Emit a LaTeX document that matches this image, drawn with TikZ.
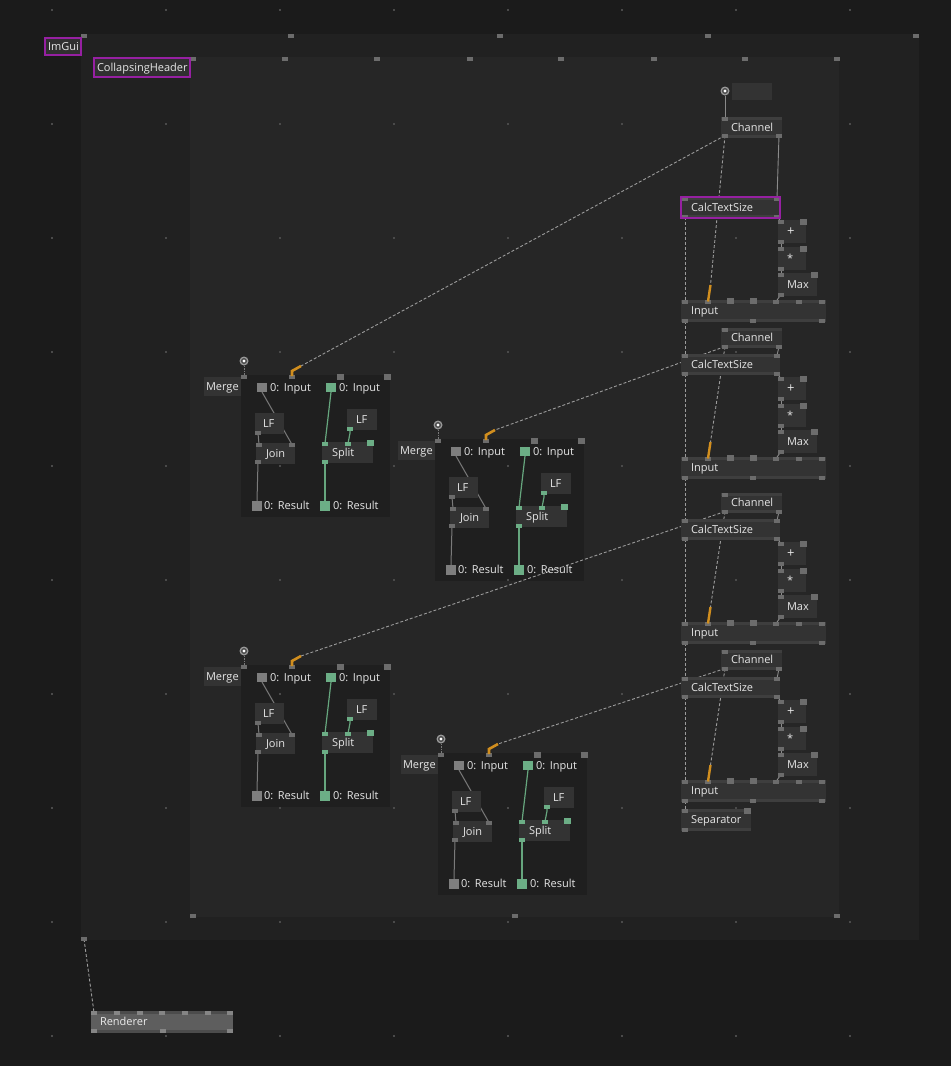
\documentclass[tikz,border=0pt]{standalone}
\usepackage{fontspec}
\setmainfont{Open Sans}
\pgfdeclarelayer{back}\pgfdeclarelayer{dots}\pgfdeclarelayer{wires}
\pgfsetlayers{back,dots,wires,main}
\definecolor{pagebg}{HTML}{1B1B1B}
\definecolor{outerc}{HTML}{212121}
\definecolor{innerc}{HTML}{262626}
\definecolor{grpc}{HTML}{1F1F1F}
\definecolor{nodec}{HTML}{333333}
\definecolor{stripc}{HTML}{3E3E3E}
\definecolor{portc}{HTML}{6C6C6C}
\definecolor{txtc}{HTML}{E6E6E6}
\definecolor{gwirec}{HTML}{7A7A7A}
\definecolor{swirec}{HTML}{8A8A8A}
\definecolor{dashc}{HTML}{9C9C9C}
\definecolor{greenc}{HTML}{66A67E}
\definecolor{greensq}{HTML}{6CAE86}
\definecolor{graysq}{HTML}{7E7E7E}
\definecolor{orangec}{HTML}{D18E1E}
\definecolor{purplec}{HTML}{9620A2}
\definecolor{lblc}{HTML}{303030}
\definecolor{rendc}{HTML}{5E5E5E}
\definecolor{rendstrip}{HTML}{4C4C4C}
\definecolor{rendport}{HTML}{858585}
\definecolor{dotc}{HTML}{4A4A4A}
\definecolor{circc}{HTML}{9A9A9A}
\definecolor{circin}{HTML}{4A4A4A}
% box with left-aligned text: [pad]{name}{x}{y}{w}{h}{text}
\newcommand\nbx[7][8]{%
  \node[boxsty, minimum width=#5pt, minimum height=#6pt] (#2) at (#3,#4) {};
  \node[txtsty] (#2-t) at ([xshift=#1pt,yshift=-3.5pt]#2.west) {#7};}
\newcommand\strips[2][stripc]{%
  \fill[#1] (#2.north west) rectangle ([yshift=-3pt]#2.north east);
  \fill[#1] (#2.south west) rectangle ([yshift=3pt]#2.south east);}
\newcommand\prt[4][portc]{\coordinate (#2) at (#3,#4);%
  \fill[#1] ([shift={(-3pt,-2pt)}]#2) rectangle ([shift={(3pt,2pt)}]#2);}
\newcommand\bprt[4][portc]{\coordinate (#2) at (#3,#4);%
  \fill[#1] ([shift={(-3.5pt,-3pt)}]#2) rectangle ([shift={(3.5pt,3pt)}]#2);}
\newcommand\cport[3]{%
  \node[circsty] (#1) at (#2,#3) {};
  \fill[circin] (#1) circle (3pt); \fill[white] (#1) circle (1.7pt);}
\begin{document}
\begin{tikzpicture}[x=1pt,y=-1pt,
  boxsty/.style={fill=nodec, inner sep=0pt, outer sep=0pt, anchor=north west, draw=none},
  txtsty/.style={text=txtc, font=\fontsize{11}{13}\selectfont, inner sep=0pt, outer sep=0pt, anchor=base west},
  sqsty/.style={inner sep=0pt, outer sep=0pt, minimum width=10pt, minimum height=9pt},
  rsqsty/.style={inner sep=0pt, outer sep=0pt, minimum width=10pt, minimum height=10pt},
  gwire/.style={draw=gwirec, line width=1pt},
  nwire/.style={draw=greenc, line width=1.2pt},
  swire/.style={draw=swirec, line width=0.9pt},
  dwire/.style={draw=dashc, line width=0.9pt, dash pattern=on 3pt off 2pt},
  circsty/.style={circle, fill=circc, minimum size=9pt, inner sep=0pt, outer sep=0pt},
  orng/.style={draw=orangec, line width=2.6pt},
]
\useasboundingbox (0,0) rectangle (951,1066);
\begin{pgfonlayer}{back}
  \fill[pagebg] (0,0) rectangle (951,1066);
  \node[boxsty, fill=outerc, minimum width=838pt, minimum height=906pt] (imgui) at (81,34) {};
  \node[boxsty, fill=innerc, minimum width=649pt, minimum height=860pt] (coll) at (190,57) {};
\end{pgfonlayer}
\begin{pgfonlayer}{dots}
  \foreach \x in {52,166,...,850} \foreach \y in {10,124,...,1036} {\fill[dotc] (\x-0.7,\y-0.7) rectangle (\x+0.7,\y+0.7);}
\end{pgfonlayer}
% container handles
\foreach \x [count=\i] in {84,291,500,708,916} {\prt{oh\i}{\x}{35.5}}
\prt{ohb}{84}{939}
\foreach \x [count=\i] in {193,285,377,469.5,561,653.5,745,837} {\prt{ih\i}{\x}{58.5}}
\foreach \x [count=\i] in {193,515,837} {\prt{ihb\i}{\x}{916}}
% labels
\node[boxsty, fill=lblc, draw=purplec, line width=2.4pt, minimum width=36pt, minimum height=17pt] (imguilbl) at (45,38) {};
\node[txtsty] (imguilbl-t) at ([xshift=3pt,yshift=-3.5pt]imguilbl.west) {ImGui};
\node[boxsty, fill=lblc, draw=purplec, line width=2.4pt, minimum width=96pt, minimum height=19pt] (colllbl) at (94,58) {};
\node[txtsty] (colllbl-t) at ([xshift=3pt,yshift=-3.5pt]colllbl.west) {CollapsingHeader};
% Merge groups
\foreach \g/\dx/\dy in {1/0/0,2/194/64,3/0/290,4/197/378}{
 \begin{scope}[shift={(\dx,\dy)}]
  \begin{pgfonlayer}{back}
    \node[boxsty, fill=grpc, minimum width=149pt, minimum height=142pt] (g\g) at (241,375) {};
  \end{pgfonlayer}
  \cport{g\g-c}{244}{361}
  \prt{g\g-mp}{244}{377}
  \nbx[2]{g\g-merge}{204}{377}{37}{19}{Merge}
  \prt{g\g-p1}{292}{377}
  \bprt{g\g-p2}{340}{377}
  \bprt{g\g-p3}{387}{377}
  \coordinate (g\g-tip) at (301,366);
  \draw[orng] ([yshift=1pt]g\g-p1) -- (292,371) -- (g\g-tip);
  \node[sqsty, fill=graysq] (g\g-gi) at (262,387.5) {};
  \node[txtsty] (g\g-git) at (270,391) {0:\,\ Input};
  \node[sqsty, fill=greensq] (g\g-ni) at (331,387.5) {};
  \node[txtsty] (g\g-nit) at (339,391) {0:\,\ Input};
  \nbx[8]{g\g-lf}{255}{413}{29}{21}{LF}
  \prt{g\g-lfb}{258}{433}
  \nbx[10]{g\g-join}{256}{443}{39}{21}{Join}
  \prt{g\g-jl}{259}{444.5}
  \prt{g\g-jr}{292}{444.5}
  \prt{g\g-jb}{258}{462}
  \nbx[9]{g\g-lf2}{347}{409}{30}{21}{LF}
  \prt[greensq]{g\g-lf2b}{350}{429}
  \nbx[10]{g\g-split}{322}{442}{51}{21}{Split}
  \prt[greensq]{g\g-sl}{325}{443.5}
  \prt[greensq]{g\g-sm}{348}{443.5}
  \bprt[greensq]{g\g-sr}{370}{443}
  \prt[greensq]{g\g-sb}{325}{461.5}
  \node[rsqsty, fill=graysq] (g\g-gr) at (257,506) {};
  \node[txtsty] (g\g-grt) at (264,509.5) {0:\,\ Result};
  \node[rsqsty, fill=greensq] (g\g-nr) at (325,506) {};
  \node[txtsty] (g\g-nrt) at (333,509.5) {0:\,\ Result};
  \begin{pgfonlayer}{wires}
    \draw[gwire, dash pattern=on 1.5pt off 1pt] (g\g-c) -- (g\g-mp);
    \draw[gwire] (g\g-gi.south) -- (g\g-jr);
    \draw[gwire] (g\g-lfb) -- (g\g-jl);
    \draw[gwire] (g\g-jb) -- (g\g-gr.north);
    \draw[nwire] (g\g-ni.south) -- (g\g-sl);
    \draw[nwire] (g\g-lf2b) -- ++(0,4) -- (g\g-sm);
    \draw[nwire] (g\g-sb) -- (g\g-nr.north);
  \end{pgfonlayer}
 \end{scope}}
% Right column blocks
\foreach \b/\s in {1/-157,2/0,3/165,4/323}{
 \begin{scope}[shift={(0,\s)}]
  \nbx[10]{b\b-cts}{681}{354}{99}{21}{CalcTextSize}
  \strips{b\b-cts}
  \prt{b\b-ctl}{685}{355.5}
  \prt{b\b-ctr}{777}{355.5}
  \prt{b\b-cbl}{685}{373.5}
  \prt{b\b-cbr}{777}{373.5}
  \nbx[9]{b\b-plus}{778}{377}{28}{23}{\fontsize{13}{13}\selectfont +}
  \prt{b\b-pl}{781}{378.5}
  \bprt{b\b-pr}{803}{378.5}
  \prt{b\b-pb}{781}{398.5}
  \nbx[9]{b\b-mul}{778}{404}{28}{23}{*}
  \prt{b\b-ml}{781}{405.5}
  \bprt{b\b-mr}{803}{405.5}
  \prt{b\b-mb}{781}{425.5}
  \nbx[9]{b\b-max}{778}{430}{39}{23}{Max}
  \prt{b\b-xl}{781}{431.5}
  \bprt{b\b-xr}{814}{431.5}
  \prt{b\b-xb}{781}{451.5}
  \nbx[10]{b\b-in}{681}{457}{145}{22}{Input}
  \strips{b\b-in}
  \prt{b\b-i1}{685}{458.5}
  \prt{b\b-i2}{708}{458.5}
  \bprt{b\b-i3}{730}{458}
  \bprt{b\b-i4}{753}{458}
  \prt{b\b-i5}{776}{458.5}
  \prt{b\b-i6}{799}{458.5}
  \prt{b\b-i7}{822}{458.5}
  \prt{b\b-o1}{685}{477.5}
  \prt{b\b-o2}{753}{477.5}
  \prt{b\b-o3}{822}{477.5}
  \coordinate (b\b-tip) at (710.5,442);
  \draw[draw=orangec, line width=2.4pt] (b\b-i2) -- (b\b-tip);
  \begin{pgfonlayer}{wires}
    \draw[dwire] (b\b-cbl) -- (b\b-i1);
    \draw[swire] (b\b-cbr) -- (b\b-pl);
    \draw[swire] (b\b-pb) -- (b\b-ml);
    \draw[swire] (b\b-mb) -- (b\b-xl);
    \draw[swire] (b\b-xb) -- (b\b-i5);
  \end{pgfonlayer}
 \end{scope}}
% purple highlight on first CalcTextSize
\draw[purplec, line width=2.4pt] (b1-cts.north west) rectangle (b1-cts.south east);
% Channels of blocks 2-4
\foreach \b/\s in {2/0,3/165,4/322}{
 \begin{scope}[shift={(0,\s)}]
  \nbx[10]{b\b-ch}{721}{328}{61}{20}{Channel}
  \strips{b\b-ch}
  \prt{b\b-chtl}{725}{329.5}
  \prt{b\b-chl}{725}{346.5}
  \prt{b\b-chr}{779}{346.5}
 \end{scope}
 \begin{pgfonlayer}{wires}
  \draw[swire] (b\b-chr) -- (b\b-ctr);
  \draw[dwire] (b\b-chl) -- (b\b-tip);
  \draw[dwire] (b\b-chl) -- (g\b-tip);
 \end{pgfonlayer}}
% Channel of block 1
\cport{topc}{725}{91}
\node[boxsty, minimum width=40pt, minimum height=17pt] (topbox) at (732,83) {};
\nbx[10]{b1-ch}{721}{117}{61}{21}{Channel}
\strips{b1-ch}
\prt{b1-chtl}{725}{118.5}
\prt{b1-chl}{725}{135.5}
\prt{b1-chr}{779}{135.5}
% Separator
\nbx[10]{sep}{681}{809}{70}{22}{Separator}
\strips{sep}
\prt{sep-tl}{685}{810.5}
\bprt{sep-tr}{747}{810.5}
\prt{sep-bl}{685}{829.5}
% Renderer
\node[boxsty, fill=rendc, minimum width=142pt, minimum height=22pt] (rend) at (91,1011) {};
\strips[rendstrip]{rend}
\node[txtsty, text=white!92!black] (rend-t) at ([xshift=9pt,yshift=-3.5pt]rend.west) {Renderer};
\foreach \x [count=\i] in {94,117,140,162,185,208,230} {\prt[rendport]{rend-p\i}{\x}{1012.5}}
\foreach \x [count=\i] in {94,163,230} {\prt[rendport]{rend-q\i}{\x}{1030.5}}
\begin{pgfonlayer}{wires}
  \draw[swire] (topc) -- (b1-chtl);
  \draw[swire] (b1-chr) -- (b1-ctr);
  \draw[dwire] (b1-chl) -- (b1-tip);
  \draw[dwire] (b1-chl) -- (g1-tip);
  \draw[dwire] (b1-o1) -- (b2-ctl);
  \draw[dwire] (b2-o1) -- (b3-ctl);
  \draw[dwire] (b3-o1) -- (b4-ctl);
  \draw[dwire] (b4-o1) -- (sep-tl);
  \draw[dwire] (ohb) -- (rend-p1);
\end{pgfonlayer}
\end{tikzpicture}
\end{document}
